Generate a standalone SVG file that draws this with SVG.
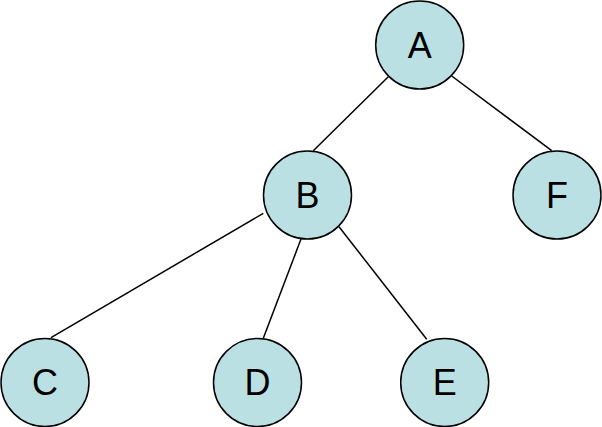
<svg xmlns="http://www.w3.org/2000/svg" width="602" height="427" viewBox="0 0 602 427">
<style>
.node circle{fill:#BAE0E3;stroke:#000;stroke-width:1.5}
.node text{font-family:"Liberation Sans",Arial,sans-serif;font-size:36px;fill:#000;text-anchor:middle}
#edges line{stroke:#000;stroke-width:1.5}
</style>
<rect width="602" height="427" fill="#fff"/>
<g id="edges">
<line x1="388.3" y1="76.7" x2="313.3" y2="150.7"/>
<line x1="451.7" y1="76" x2="551.7" y2="150.7"/>
<line x1="263.3" y1="213.3" x2="51" y2="337.7"/>
<line x1="301" y1="239" x2="263.3" y2="338.3"/>
<line x1="339" y1="226.7" x2="426.7" y2="339.3"/>
</g>
<g id="A" class="node"><circle cx="419.7" cy="45" r="44"/><text x="419.7" y="57.5">A</text></g>
<g id="B" class="node"><circle cx="307.5" cy="195" r="44"/><text x="307.5" y="207.5">B</text></g>
<g id="F" class="node"><circle cx="557" cy="195" r="44"/><text x="557" y="207.5">F</text></g>
<g id="C" class="node"><circle cx="45" cy="382.5" r="44"/><text x="45" y="395">C</text></g>
<g id="D" class="node"><circle cx="257.5" cy="382.5" r="44"/><text x="257.5" y="395">D</text></g>
<g id="E" class="node"><circle cx="444.7" cy="382.5" r="44"/><text x="444.7" y="395">E</text></g>
</svg>
